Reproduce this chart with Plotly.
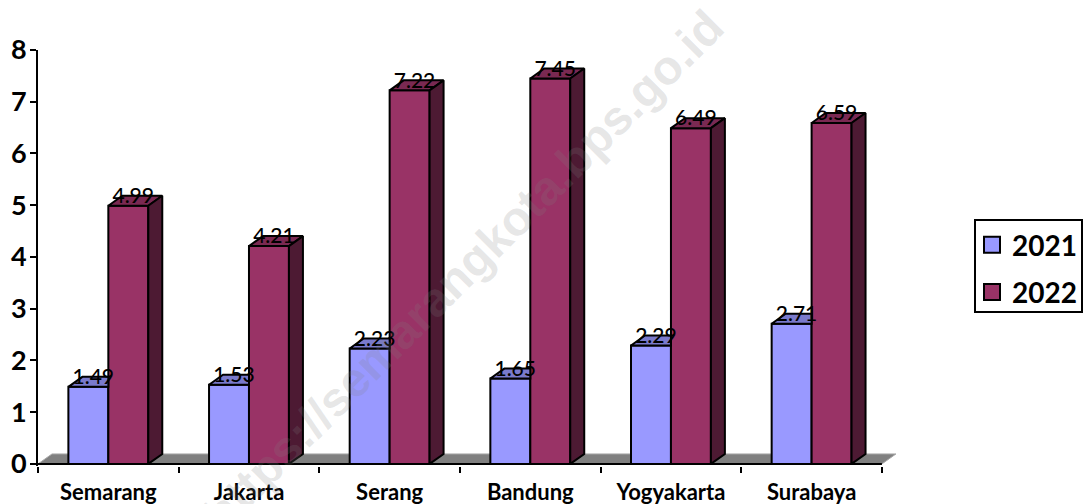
import plotly.graph_objects as go

CITIES = ["Semarang", "Jakarta", "Serang", "Bandung", "Yogyakarta", "Surabaya"]
VALUES_2021 = [1.49, 1.53, 2.23, 1.65, 2.29, 2.71]
VALUES_2022 = [4.99, 4.21, 7.22, 7.45, 6.49, 6.59]
Y_TICKS = [0, 1, 2, 3, 4, 5, 6, 7, 8]
WATERMARK = "https://semarangkota.bps.go.id"

BLUE, BLUE_TOP = "#9999FF", "#7A7ACC"
RED, RED_TOP, RED_SIDE = "#993366", "#7A2952", "#4D1A33"
FONT = "Lato"

W, H = 1083, 504
M_L, M_R, M_T, M_B = 38, 187, 50, 38
PLOT_W = W - M_L - M_R
PLOT_H = H - M_T - M_B

# fake 3D depth, in axis units
DEPTH_X = 0.0995
DEPTH_Y = 0.193
BAR_W = 0.284

# the default page has an 8px body margin and would clip the right edge
NO_PAGE_MARGIN = "document.body.style.margin='0';document.documentElement.style.overflow='hidden';"


def polygon(xs, ys, color):
    return go.Scatter(
        x=xs + xs[:1],
        y=ys + ys[:1],
        mode="lines",
        fill="toself",
        fillcolor=color,
        line={"color": "black", "width": 2},
        showlegend=False,
        hoverinfo="skip",
    )


def paper_x(px):
    return (px - M_L) / PLOT_W


def paper_y(py):
    return 1 - (py - M_T) / PLOT_H


centers = [i + 0.5 for i in range(len(CITIES))]
fig = go.Figure()

for name, values, color, offset in [
    ("2021", VALUES_2021, BLUE, -BAR_W),
    ("2022", VALUES_2022, RED, 0),
]:
    fig.add_trace(
        go.Bar(
            x=centers,
            y=values,
            width=BAR_W,
            offset=offset,
            marker={"color": color, "line": {"color": "black", "width": 2}},
            showlegend=False,
            hoverinfo="skip",
        )
    )

# top and side faces
for c, v in zip(centers, VALUES_2021):
    fig.add_trace(
        polygon(
            [c - BAR_W, c - BAR_W + DEPTH_X, c, c],
            [v, v + DEPTH_Y, v + DEPTH_Y, v],
            BLUE_TOP,
        )
    )
for c, v in zip(centers, VALUES_2022):
    fig.add_trace(
        polygon(
            [c, c + DEPTH_X, c + BAR_W + DEPTH_X, c + BAR_W],
            [v, v + DEPTH_Y, v + DEPTH_Y, v],
            RED_TOP,
        )
    )
    fig.add_trace(
        polygon(
            [c + BAR_W, c + BAR_W + DEPTH_X, c + BAR_W + DEPTH_X, c + BAR_W],
            [v, v + DEPTH_Y, DEPTH_Y, 0],
            RED_SIDE,
        )
    )

# x axis line, stops at the last category
fig.add_trace(
    go.Scatter(
        x=[0, len(CITIES)],
        y=[0, 0],
        mode="lines",
        line={"color": "black", "width": 2},
        showlegend=False,
        hoverinfo="skip",
    )
)

# value labels
for values, shift in [(VALUES_2021, -BAR_W / 2), (VALUES_2022, BAR_W / 2)]:
    fig.add_trace(
        go.Scatter(
            x=[c + shift + 0.035 for c in centers],
            y=[v + DEPTH_Y * 0.8 for v in values],
            mode="text",
            text=[f"{v:.2f}" for v in values],
            textposition="middle center",
            textfont={"family": FONT, "size": 21, "color": "black", "weight": 500},
            cliponaxis=False,
            showlegend=False,
            hoverinfo="skip",
        )
    )

# legend entries
for name, color in [("2021", BLUE), ("2022", RED)]:
    fig.add_trace(
        go.Scatter(
            x=[None],
            y=[None],
            mode="markers",
            name=name,
            legendgroup=name,
            marker={
                "symbol": "square",
                "size": 16,
                "color": color,
                "line": {"color": "black", "width": 2},
            },
        )
    )

n = len(CITIES)
fig.update_layout(
    width=W,
    height=H,
    margin={"l": M_L, "r": M_R, "t": M_T, "b": M_B, "autoexpand": False},
    paper_bgcolor="white",
    plot_bgcolor="white",
    font={"family": FONT, "color": "black"},
    barmode="overlay",
    xaxis={
        "range": [0, n + 0.1],
        "tickvals": centers,
        "ticktext": CITIES,
        "ticks": "outside",
        "ticklen": 7,
        "tickcolor": "rgba(0,0,0,0)",
        "tickfont": {"family": FONT, "size": 22, "weight": "bold"},
        "showgrid": False,
        "zeroline": False,
        "showline": False,
        "minor": {
            "tickvals": list(range(n + 1)),
            "ticks": "outside",
            "ticklen": 6,
            "tickwidth": 2,
            "tickcolor": "black",
            "showgrid": False,
        },
    },
    yaxis={
        "range": [-0.04, 8],
        "tickvals": Y_TICKS,
        "ticks": "outside",
        "ticklen": 6,
        "tickwidth": 2,
        "tickcolor": "black",
        "ticklabelstandoff": -2,
        "tickfont": {"family": FONT, "size": 27, "weight": "bold"},
        "showgrid": False,
        "zeroline": False,
        "showline": True,
        "linewidth": 2,
        "linecolor": "black",
    },
    legend={
        "xref": "container",
        "yref": "container",
        "x": 972 / W,
        "y": 1 - 220 / H,
        "xanchor": "left",
        "yanchor": "top",
        "bgcolor": "rgba(0,0,0,0)",
        "borderwidth": 0,
        "font": {"family": FONT, "size": 28, "weight": "bold"},
        "itemwidth": 30,
        "tracegroupgap": 8,
    },
    shapes=[
        {
            "type": "path",
            "path": f"M 0 0 L {DEPTH_X} {DEPTH_Y} L {n + DEPTH_X} {DEPTH_Y} L {n} 0 Z",
            "fillcolor": "#808080",
            "line": {"color": "#a8a8a8", "width": 1},
            "layer": "below",
        },
        # legend frame
        {
            "type": "rect",
            "xref": "paper",
            "yref": "paper",
            "x0": paper_x(975),
            "x1": paper_x(1082),
            "y0": paper_y(312),
            "y1": paper_y(220),
            "line": {"color": "black", "width": 2},
        },
    ],
    annotations=[
        {
            "text": WATERMARK,
            "xref": "paper",
            "yref": "paper",
            "x": paper_x(463),
            "y": paper_y(270),
            "showarrow": False,
            "textangle": -45,
            "font": {
                "family": "Liberation Sans",
                "size": 48,
                "weight": "bold",
                "color": "rgba(128,128,128,0.2)",
            },
        }
    ],
)

fig.write_html("out.html", config={"displayModeBar": False}, post_script=NO_PAGE_MARGIN)
